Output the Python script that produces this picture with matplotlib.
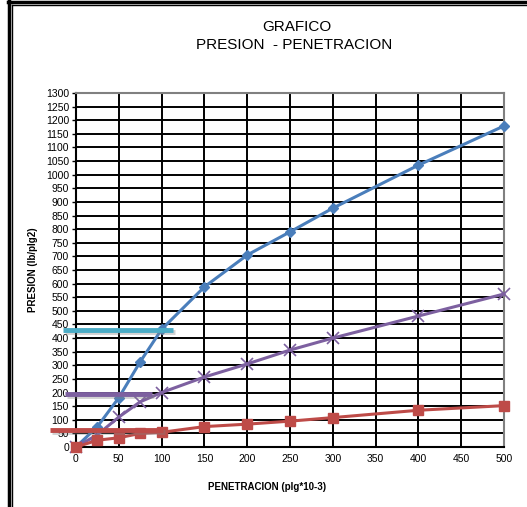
import matplotlib.pyplot as plt
from matplotlib.lines import Line2D
import matplotlib.patheffects as pe

plt.rcParams['font.family'] = ['Liberation Sans', 'DejaVu Sans']

# penetration readings (plg*10-3)
penetracion = [0, 25, 50, 75, 100, 150, 200, 250, 300, 400, 500]

# pressure curves (lb/plg2)
presion_a = [0, 75, 181, 313, 432, 588, 705, 790, 877, 1035, 1179]
presion_b = [0, 45, 110, 166, 200, 257, 305, 356, 400, 481, 562]
presion_c = [0, 25, 34, 50, 54, 75, 84, 95, 108, 135, 152]

# reference levels read at 0.1" penetration
nivel_a = 430
nivel_b = 195
nivel_c = 62

azul = '#4A7EBB'
rojo = '#BE4B48'
morado = '#7D60A0'
celeste = '#4BACC6'

fig = plt.figure(figsize=(5.27, 5.07), dpi=100)
ax = fig.add_axes([0.1442, 0.1183, 0.8122, 0.6983])

ax.set_xlim(0, 500)
ax.set_ylim(0, 1300)
ax.set_xticks(range(0, 501, 50))
ax.set_yticks(range(0, 1301, 50))
ax.grid(True, color='black', linewidth=1.4)
ax.set_axisbelow(True)
ax.tick_params(axis='both', labelsize=7.5, length=3, width=1, colors='black', pad=2)
ax.tick_params(axis='x', length=0, pad=5)
for s in ['top', 'right']:
    ax.spines[s].set_color('#808080')
    ax.spines[s].set_linewidth(1.5)
for s in ['left', 'bottom']:
    ax.spines[s].set_color('black')
    ax.spines[s].set_linewidth(1.5)

ax.plot(penetracion, presion_a, color=azul, linewidth=2.2, marker='D',
        markersize=5.5, zorder=4, clip_on=False)
ax.plot(penetracion, presion_b, color=morado, linewidth=2.2, marker='x',
        markersize=8, markeredgewidth=1.2, zorder=4, clip_on=False)
ax.plot(penetracion, presion_c, color=rojo, linewidth=2.2, marker='s',
        markersize=7.5, zorder=5, clip_on=False)

# horizontal reference bars with a soft shadow
sombra = [pe.SimpleLineShadow(offset=(1.5, -1.5), alpha=0.35, shadow_color='gray'),
          pe.Normal()]
ax.plot([-15, 113], [nivel_a, nivel_a], color=celeste, linewidth=3.5,
        solid_capstyle='butt', clip_on=False, zorder=6, path_effects=sombra)
ax.plot([-13, 89], [nivel_b, nivel_b], color=morado, linewidth=3.5,
        solid_capstyle='butt', clip_on=False, zorder=6, path_effects=sombra)
ax.plot([-30, 102], [nivel_c, nivel_c], color=rojo, linewidth=3.5,
        solid_capstyle='butt', clip_on=False, zorder=6, path_effects=sombra)

fig.text(0.563, 0.947, 'GRAFICO', ha='center', va='center', fontsize=11)
fig.text(0.558, 0.911, 'PRESION  - PENETRACION', ha='center', va='center', fontsize=11)

ax.set_ylabel('PRESION (lb/plg2)', fontsize=7, fontweight='bold')
ax.yaxis.set_label_coords(-0.100, 0.5)
ax.yaxis.label.set_va('center')
ax.set_xlabel('PENETRACION (plg*10-3)', fontsize=7, fontweight='bold')
ax.xaxis.set_label_coords(0.446, -0.113)
ax.xaxis.label.set_va('center')

# outer chart frame: double line on the left and top
fig.add_artist(Line2D([0.017, 0.017], [0, 1], color='black', linewidth=2.5, transform=fig.transFigure))
fig.add_artist(Line2D([0.023, 0.023], [0, 0.99], color='black', linewidth=1, transform=fig.transFigure))
fig.add_artist(Line2D([0.015, 1], [0.996, 0.996], color='black', linewidth=2.5, transform=fig.transFigure))
fig.add_artist(Line2D([0.023, 1], [0.99, 0.99], color='black', linewidth=1, transform=fig.transFigure))

fig.savefig('out.png', dpi=100)
